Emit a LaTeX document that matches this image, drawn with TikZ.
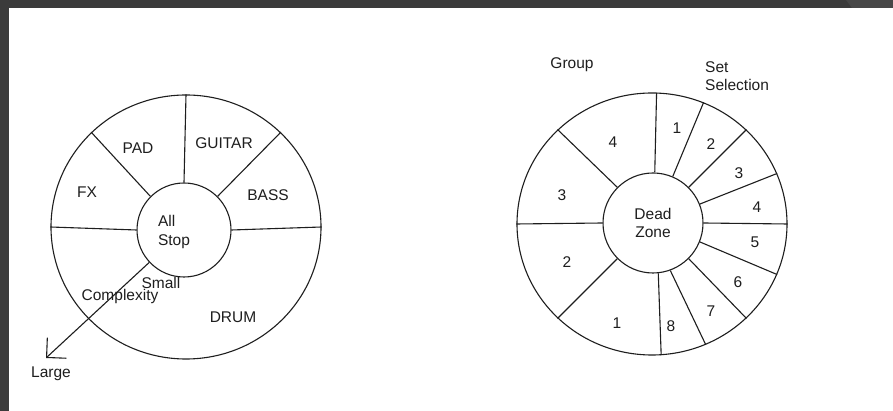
\documentclass[tikz,border=0pt]{standalone}
\usepackage{fontspec}
\setmainfont{Liberation Sans}
\usepackage{xcolor}
\usetikzlibrary{arrows.meta,shapes.geometric,positioning}

\definecolor{framegray}{HTML}{3B3B3B}
\definecolor{framelight}{HTML}{474747}
\definecolor{inkgray}{HTML}{1E1E1E}

\tikzset{
  wheelline/.style={draw=inkgray,line width=1.1pt},
  rim/.style={wheelline,ellipse,inner sep=0pt},
  hub/.style={wheelline,circle,inner sep=0pt,align=center,text=inkgray,
    font=\fontsize{15.5}{18.5}\selectfont},
  lbl/.style={text=inkgray,inner sep=0pt,font=\fontsize{15.5}{18.5}\selectfont},
}

\begin{document}
\begin{tikzpicture}[x=1pt,y=1pt,>=Stealth]
\useasboundingbox (0,0) rectangle (893,411);
\fill[framegray](0,0) rectangle (893,411);
\fill[framelight](846,411)--(893,411)--(893,403)--(852,403)--cycle;
\fill[white](9,0) rectangle (893,403);

% instrument wheel
\node[rim,minimum width=270pt,minimum height=264pt](instwheel) at (186,184) {};
\node[hub,minimum size=94pt](allstop) at (184,181) {};
\draw[wheelline](allstop.0)--(instwheel.0)
(allstop.45)--(instwheel.45)
(allstop.90)--(instwheel.90)
(allstop.135)--(instwheel.135)
(allstop.180)--(instwheel.180);
\coordinate (largetip) at (46,53);
\draw[wheelline,-{Straight Barb[length=14pt,width=28pt]}](allstop.223)--(largetip);
\node[lbl,align=left](allstoptext) at (174,179) {All\\Stop};
\node[lbl](pad) at (138,263) {PAD};
\node[lbl](guitar) at (224,268) {GUITAR};
\node[lbl](fx) at (87,219) {FX};
\node[lbl](bass) at (268,216) {BASS};
\node[lbl](drum) at (233,94) {DRUM};
\node[lbl](small) at (161,128) {Small};
\node[lbl](complexity) at (120,115) {Complexity};
\node[lbl](large) at (51,37) {Large};

% group / set wheel
\node[rim,minimum width=270pt,minimum height=262pt](setwheel) at (652,187) {};
\node[hub,minimum size=100pt](deadzone) at (653,188) {Dead\\Zone};
\draw[wheelline](deadzone.180)--(setwheel.180)
(deadzone.135)--(setwheel.135)
(deadzone.225)--(setwheel.225)
(deadzone.88)--(setwheel.88.5)
(deadzone.67.5)--(setwheel.67.5)
(deadzone.45)--(setwheel.45)
(deadzone.22.5)--(setwheel.22.5)
(deadzone.0)--(setwheel.0)
(deadzone.-22.5)--(setwheel.-22.5)
(deadzone.-45)--(setwheel.-45)
(deadzone.-70)--(setwheel.-66)
(deadzone.-84)--(setwheel.-86.5);
\node[lbl](group) at (572,346) {Group};
\node[lbl,align=left,anchor=west](setsel) at (705,335) {Set\\Selection};
\node[lbl](g4) at (613,269) {4};
\node[lbl](g3) at (562,216) {3};
\node[lbl](g2) at (567,149) {2};
\node[lbl](g1) at (617,88) {1};
\node[lbl](s1) at (677,283) {1};
\node[lbl](s2) at (711,267) {2};
\node[lbl](s3) at (739,238) {3};
\node[lbl](s4) at (757,204) {4};
\node[lbl](s5) at (755,169) {5};
\node[lbl](s6) at (738,129) {6};
\node[lbl](s7) at (711,100) {7};
\node[lbl](s8) at (671,85) {8};
\end{tikzpicture}
\end{document}
